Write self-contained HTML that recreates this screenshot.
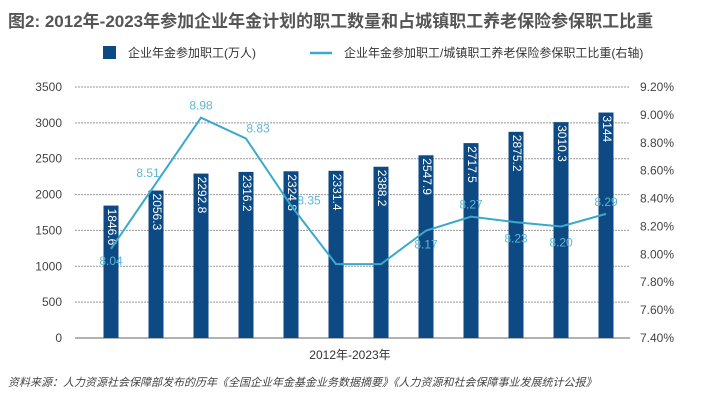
<!DOCTYPE html>
<html><head><meta charset="utf-8"><style>
body{margin:0;background:#fff;width:715px;height:406px;overflow:hidden;font-family:"Liberation Sans","Noto Sans CJK SC",sans-serif}
</style></head><body>
<svg id="c" width="715" height="406" xmlns="http://www.w3.org/2000/svg">
<text x="8" y="27" font-size="17" font-weight="bold" fill="#555" font-family="Liberation Sans,Noto Sans CJK SC,sans-serif">图2: 2012年-2023年参加企业年金计划的职工数量和占城镇职工养老保险参保职工比重</text>
<g>
<rect x="103" y="46" width="13" height="13" fill="#0d4a84"/>
<text x="128" y="57" font-size="12" fill="#333">企业年金参加职工(万人)</text>
<line x1="310" y1="53" x2="332" y2="53" stroke="#3aa9cc" stroke-width="2.5"/>
<text x="344" y="57" font-size="12" fill="#333">企业年金参加职工/城镇职工养老保险参保职工比重(右轴)</text>
</g>
<g id="grid"></g><g id="bars"></g><g id="line"></g><g id="axes"></g>
<text x="350" y="359" font-size="12" fill="#333" text-anchor="middle">2012年-2023年</text>
<text x="8" y="386" font-size="11" font-style="italic" fill="#444">资料来源：人力资源社会保障部发布的历年《全国企业年金基金业务数据摘要》《人力资源和社会保障事业发展统计公报》</text>
</svg>
<script>
const years=["2012","2013","2014","2015","2016","2017","2018","2019","2020","2021","2022","2023"];
const workers=[1846.6,2056.3,2292.8,2316.2,2324.8,2331.4,2388.2,2547.9,2717.5,2875.2,3010.3,3144];
const ratio=[8.04,8.51,8.98,8.83,8.35,7.93,7.93,8.17,8.27,8.23,8.20,8.29];
const ratioLabels=["8.04","8.51","8.98","8.83","8.35","","","8.17","8.27","8.23","8.20","8.29"];
const leftTicks=[0,500,1000,1500,2000,2500,3000,3500];
const rightTicks=[7.4,7.6,7.8,8.0,8.2,8.4,8.6,8.8,9.0,9.2];
const NS="http://www.w3.org/2000/svg";
const y0=338,y1=87,xL=75,xR=630;
const yL=v=>y0-(v/3500)*(y0-y1);
const yR=v=>y0-((v-7.4)/1.8)*(y0-y1);
const xB=i=>111+i*45;
function mk(tag,attrs,parent,txt){const e=document.createElementNS(NS,tag);for(const k in attrs)e.setAttribute(k,attrs[k]);if(txt!==undefined)e.textContent=txt;document.getElementById(parent).appendChild(e);return e;}
leftTicks.forEach(t=>{
 const l=mk('line',{x1:xL,x2:xR,y1:yL(t),y2:yL(t),stroke:t===0?'#666':'#999','stroke-width':1,'stroke-dasharray':t===0?'':'2,1'},'grid');
 
 
 const tx=mk('text',{x:62,y:yL(t)+4,'font-size':12,fill:'#444','text-anchor':'end'},'axes',String(t));
 
 
});
rightTicks.forEach(t=>{
 const tx=mk('text',{x:640,y:yR(t)+4,'font-size':12,fill:'#444'},'axes',t.toFixed(2)+'%');
 
 
});
workers.forEach((v,i)=>{
 const r=mk('rect',{x:xB(i)-7.5,y:yL(v),width:15,height:y0-yL(v),fill:'#0d4a84'},'bars');
 
 
 const cx=xB(i),cy=yL(v)+3;
 const t=mk('text',{x:cx,y:cy,'font-size':12,fill:'#fff',transform:`rotate(90 ${cx} ${cy})`,'dominant-baseline':'middle'},'bars',String(v));
 
 
});
const p=mk('polyline',{points:ratio.map((v,i)=>xB(i)+','+yR(v)).join(' '),fill:'none',stroke:'#3aa9cc','stroke-width':2},'line');


const offs=[[0,12],[-8,-10],[0,-12],[12,-10],[18,-5],[0,0],[0,0],[0,14],[0,-12],[0,16],[0,16],[0,-12]];
ratio.forEach((v,i)=>{
 if(!ratioLabels[i])return;
 const t=mk('text',{x:xB(i)+offs[i][0],y:yR(v)+offs[i][1]+4,'font-size':12,fill:'#5bb8d6','text-anchor':'middle'},'line',ratioLabels[i]);
 
 
});
</script>
</body></html>
